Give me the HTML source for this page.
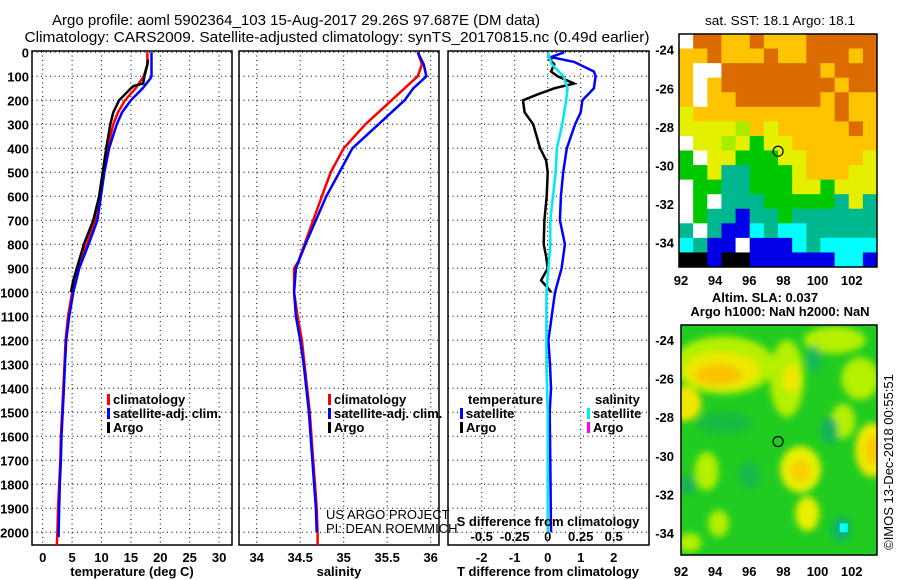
<!DOCTYPE html>
<html><head><meta charset="utf-8"><style>
html,body{margin:0;padding:0;background:#fff;}
svg{display:block;font-family:"Liberation Sans",sans-serif;}
.tk{font-size:13px;font-weight:bold;}
</style></head><body>
<svg id="fig" width="900" height="580" viewBox="0 0 900 580" xmlns="http://www.w3.org/2000/svg">
<defs>
<clipPath id="c1"><rect x="32" y="51" width="200" height="494"/></clipPath>
<clipPath id="c2"><rect x="239" y="51" width="200" height="494"/></clipPath>
<clipPath id="c3"><rect x="448" y="51" width="201" height="494"/></clipPath>
<clipPath id="cm2"><rect x="681" y="325" width="196" height="230"/></clipPath>
<filter id="blur" x="-20%" y="-20%" width="140%" height="140%"><feGaussianBlur stdDeviation="3.5"/></filter>
</defs>
<text x="296" y="25" font-size="15" text-anchor="middle" textLength="488" lengthAdjust="spacingAndGlyphs">Argo profile: aoml 5902364_103 15-Aug-2017 29.26S 97.687E (DM data)</text>
<text x="337" y="42" font-size="15" text-anchor="middle" textLength="625" lengthAdjust="spacingAndGlyphs">Climatology: CARS2009. Satellite-adjusted climatology: synTS_20170815.nc (0.49d earlier)</text>
<text x="780" y="25" font-size="13" text-anchor="middle" textLength="150" lengthAdjust="spacingAndGlyphs">sat. SST: 18.1 Argo: 18.1</text>
<text x="765" y="302" class="tk" text-anchor="middle">Altim. SLA: 0.037</text>
<text x="780" y="316" class="tk" text-anchor="middle">Argo h1000: NaN h2000: NaN</text>
<text transform="translate(893,462) rotate(-90)" font-size="13" text-anchor="middle">©IMOS 13-Dec-2018 00:55:51</text>
<g id="g"></g>
</svg>
<script>
// ---- data ----
const depthTicks=[0,100,200,300,400,500,600,700,800,900,1000,1100,1200,1300,1400,1500,1600,1700,1800,1900,2000];
const tempTicks=[0,5,10,15,20,25,30];
const salTicks=[34,34.5,35,35.5,36];
const dTTicks=[-2,-1,0,1,2];
const dSTicks=[-0.5,-0.25,0,0.25,0.5];
const dSTickLabels=["-0.5","-0.25","0","0.25","0.5"];
const climTD=[0,50,100,150,200,250,300,400,500,600,700,800,900,1000,1100,1200,1300,1400,1500,1600,1700,1800,1900,2000,2054];
const climT=[17.8,17.8,17.2,15.8,14,12.8,12,11,10.3,9.7,9,7.5,5.8,5,4.3,3.9,3.7,3.5,3.3,3.1,3,2.8,2.6,2.5,2.4];
const satTD=[0,100,110,150,200,250,300,400,500,600,700,800,900,1000,1100,1200,1300,1400,1500,1600,1700,1800,1900,2000,2020];
const satT=[18.5,18.5,18.3,17,15,13.5,12.6,11.3,10.5,9.9,9.3,7.8,6.2,5.2,4.5,4,3.8,3.6,3.4,3.2,3.1,2.9,2.8,2.7,2.7];
const argoTD=[30,50,100,130,140,150,200,250,300,400,500,600,700,800,900,950,1000];
const argoT=[17.9,17.8,17.3,17.1,15.5,15,13,12,11.5,10.8,10.2,9.6,8.6,7,5.8,5.2,4.8];
const climSD=[0,50,100,150,200,250,300,400,500,600,700,800,870,900,1000,1100,1200,1300,1400,1500,1600,1700,1800,1900,2000,2054];
const climS=[35.85,35.9,35.85,35.7,35.55,35.4,35.25,35.0,34.85,34.75,34.65,34.55,34.48,34.43,34.43,34.47,34.52,34.55,34.58,34.61,34.63,34.65,34.67,34.69,34.7,34.7];
const satSD=[0,50,100,150,200,250,300,400,500,600,700,800,900,1000,1100,1200,1300,1400,1500,1600,1700,1800,1900,2000];
const satS=[35.85,35.92,35.95,35.8,35.7,35.55,35.4,35.1,34.95,34.8,34.68,34.56,34.45,34.43,34.45,34.5,34.54,34.57,34.6,34.62,34.64,34.66,34.68,34.69];
const satdTD=[0,20,40,80,100,150,200,250,300,400,500,600,700,800,900,1000,1100,1200,1300,1400,1500,1700,2000];
const satdT=[0.5,0.1,0.8,1.4,1.45,1.4,1.05,1.0,0.83,0.58,0.47,0.4,0.37,0.52,0.42,0.22,0.12,0.02,0.07,0.1,0.06,0.08,0.1];
const argodTD=[20,30,50,80,100,130,150,175,200,250,300,400,450,500,600,700,800,850,900,950,990,1000];
const argodT=[0.2,0.05,0.2,0.1,0.3,0.8,0.2,-0.3,-0.75,-0.7,-0.44,-0.23,-0.05,0,-0.03,-0.1,-0.12,-0.05,0,-0.2,0.05,0.1];
const satdSD=[0,50,100,150,200,300,400,500,600,700,800,1000,1100,1300,1500,2000];
const satdS=[0,0.03,0.12,0.15,0.14,0.11,0.07,0.06,0.04,0.02,0.02,-0.01,-0.01,-0.01,0,0];
const sstRows=["WOOYYOYYYOOOOO","YYOYYYOYYOOOYO","YWWOOOOOOOYOOO","YWYOOOOOOOOYOO","YWYYOOOOOOYOYY","LYYYYYYYYYYOYY","LLLLGYLYYYYYOY","WLLGLDLLYYYYYY","DWLLDDDLLYYYYL","DDLTTDDDLYYYLL","WDDTTDDDLLDLLL","WDWTTTDDDDDTLT","WDTTBTTDTTTTTT","TWTBBCTCCTTTTT","CTBBWBBBCTCCCC","KKBKKBBBBBBCCB"];
const lonTicks=[92,94,96,98,100,102];
const latTicks=[-24,-26,-28,-30,-32,-34];
const slaBlobs=[[94.5,-25.3,3.0,1.5,"#b4f000"],[94.4,-25.6,2.2,0.95,"#f0e800"],[94.2,-25.8,1.4,0.55,"#f8c400"],[92.2,-27.3,1.0,0.9,"#f0e800"],[98.2,-26,1.0,2.0,"#b4f000"],[98.5,-26,0.55,0.7,"#f0e800"],[101,-24,1.8,0.7,"#b4f000"],[99,-30.7,1.2,1.2,"#e8f000"],[99,-30.8,0.6,0.6,"#f8d000"],[103.2,-29.7,1.0,1.4,"#f0e800"],[103.3,-29.7,0.5,0.7,"#f8c800"],[93.5,-30.8,0.7,1.0,"#b4f000"],[94.2,-33.5,0.6,0.7,"#b4f000"],[99.4,-33,0.7,0.9,"#e8f000"],[101.5,-28.2,0.7,0.9,"#b4f000"],[102.5,-26,1.1,1.1,"#b4f000"],[92.5,-34.5,0.7,0.5,"#b4f000"],[100.7,-28.7,0.5,0.7,"#14b060"],[101.4,-33.8,0.55,0.65,"#10b070"],[94.5,-28.3,1.6,0.6,"#18bc40"],[96,-31,0.6,0.7,"#14b850"],[99.8,-25,0.4,0.7,"#14b860"],[92.4,-31.5,0.4,0.5,"#14b060"]];
// ---- scales ----
const yD=d=>52.3+d*0.24;
const xT=t=>42.7+t*5.88;
const xS=s=>256.7+(s-34)*87;
const xdT=v=>547.7+v*33;
const xdS=v=>547.7+v*132;
const m1x=l=>681+(l-92)*17.07, m1y=l=>49.7+(-24-l)*19.3;
const m2x=l=>681+(l-92)*17.07, m2y=l=>340+(-24-l)*19.3;
const NS="http://www.w3.org/2000/svg";
const G=document.getElementById('g');
function mk(tag,attrs,parent){const e=document.createElementNS(NS,tag);for(const k in attrs)e.setAttribute(k,attrs[k]);(parent||G).appendChild(e);return e;}
function txt(x,y,s,anchor,cls,parent){const e=mk('text',{x:x,y:y,'text-anchor':anchor,'class':cls||'tk'},parent);e.textContent=s;return e;}
function line(xs,ds,fx,color,w,clip,name){
  const pts=xs.map((v,i)=>fx(v).toFixed(1)+","+yD(ds[i]).toFixed(1)).join(" ");
  const e=mk('polyline',{points:pts,fill:'none',stroke:color,'stroke-width':w,'clip-path':'url(#'+clip+')'});
  
  
}
function panel(x0,x1,xticks,fx,labels,clipName,pname){
  const fr=mk('rect',{x:x0,y:51,width:x1-x0,height:494,fill:'#fff',stroke:'#000','stroke-width':1.5});
  
  
  depthTicks.forEach(d=>{const l=mk('line',{x1:x0,x2:x1,y1:yD(d),y2:yD(d),stroke:'#000','stroke-dasharray':'1,3.5'});
    
    });
  xticks.forEach((t,i)=>{const X=fx(t);const l=mk('line',{x1:X,x2:X,y1:51,y2:545,stroke:'#000','stroke-dasharray':'1,3.5'});
    
    
    if(labels){const e=txt(X,562,labels[i],'middle');
    
    }});
}
depthTicks.forEach(d=>{const e=txt(29,yD(d)+5,String(d),'end');
  
  });
panel(32,232,tempTicks,xT,tempTicks.map(String),'c1','temperature-panel');
panel(239,439,salTicks,xS,salTicks.map(String),'c2','salinity-panel');
panel(448,649,dTTicks,xdT,dTTicks.map(String),'c3','difference-panel');
dSTicks.forEach((t,i)=>{const e=txt(xdS(t),541,dSTickLabels[i],'middle');
  
  });
line(climT,climTD,xT,'#ff0000',2.5,'c1','climatology-temperature-line');
line(satT,satTD,xT,'#0000ff',2.5,'c1','satellite-temperature-line');
line(argoT,argoTD,xT,'#000000',2.5,'c1','argo-temperature-line');
line(climS,climSD,xS,'#ff0000',2.5,'c2','climatology-salinity-line');
line(satS,satSD,xS,'#0000ff',2.5,'c2','satellite-salinity-line');
line(argodT,argodTD,xdT,'#000000',2.5,'c3','argo-temperature-difference-line');
line(satdT,satdTD,xdT,'#0000ff',2.5,'c3','satellite-temperature-difference-line');
line(satdS,satdSD,xdS,'#00e8f0',2.5,'c3','satellite-salinity-difference-line');
[[132,576,'temperature (deg C)','temperature-axis-title'],[339,576,'salinity','salinity-axis-title'],[548,576,'T difference from climatology','t-difference-axis-title'],[548,526,'S difference from climatology','s-difference-axis-title']].forEach(a=>{
  const e=txt(a[0],a[1],a[2],'middle');
  
  });
function leg(x,y,color,label,name){
  const r=mk('rect',{x:x,y:y-10,width:3,height:11,fill:color});
  
  
  const t=txt(x+6,y,label,'start');
  
  
}
leg(107,404,'#ff0000','climatology','legend-climatology');
leg(107,418,'#0000ff','satellite-adj. clim.','legend-satellite');
leg(107,432,'#000000','Argo','legend-argo');
leg(328,404,'#ff0000','climatology','legend2-climatology');
leg(328,418,'#0000ff','satellite-adj. clim.','legend2-satellite');
leg(328,432,'#000000','Argo','legend2-argo');
[[468,404,'temperature','legend-temperature-heading'],[595,404,'salinity','legend-salinity-heading']].forEach(a=>{const e=txt(a[0],a[1],a[2],'start');
  
  });
leg(460,418,'#0000ff','satellite','legend-t-satellite');
leg(460,432,'#000000','Argo','legend-t-argo');
leg(587,418,'#00f0f0','satellite','legend-s-satellite');
leg(587,432,'#ff00ff','Argo','legend-s-argo');
[[326,519,'US ARGO PROJECT','credit-project'],[326,533,'PI: DEAN ROEMMICH','credit-pi']].forEach(a=>{const e=mk('text',{x:a[0],y:a[1],'font-size':13,fill:'#000'});e.textContent=a[2];
  
  });
// SST map
const cols={O:'#dc6c00',Y:'#ffc400',L:'#e4f000',G:'#a8ec00',D:'#00c800',T:'#00b890',C:'#00ffff',B:'#0000e8',K:'#000000',W:'#ffffff'};
const cw=198/14, ch=233/16;
sstRows.forEach((row,r)=>{for(let c=0;c<row.length;c++){const e=mk('rect',{x:(679+c*cw).toFixed(2),y:(34+r*ch).toFixed(2),width:(cw+0.5).toFixed(2),height:(ch+0.5).toFixed(2),fill:cols[row[c]]});
  
  }});
const f1=mk('rect',{x:679,y:34,width:198,height:233,fill:'none',stroke:'#000','stroke-width':1.5});


const c1=mk('circle',{cx:m1x(97.687),cy:m1y(-29.26),r:5,fill:'none',stroke:'#000','stroke-width':1.2});


// SLA map
const base=mk('rect',{x:681,y:325,width:196,height:230,fill:'#20cc20'});


const bg=mk('g',{'clip-path':'url(#cm2)'});
const bg2=mk('g',{filter:'url(#blur)'},bg);
slaBlobs.forEach(b=>{const e=mk('ellipse',{cx:m2x(b[0]),cy:m2y(b[1]),rx:b[2]*17.07,ry:b[3]*19.3,fill:b[4]},bg2);
  
  });
const cy=mk('rect',{x:m2x(101.3),y:m2y(-33.5),width:8,height:9,fill:'#00ffff'},bg);


const f2=mk('rect',{x:681,y:325,width:196,height:230,fill:'none',stroke:'#000','stroke-width':1.5});


const c2=mk('circle',{cx:m2x(97.687),cy:m2y(-29.26),r:5,fill:'none',stroke:'#000','stroke-width':1.2});


lonTicks.forEach(l=>{const a=txt(m1x(l),285,String(l),'middle');
  
  
  const b=txt(m2x(l),576,String(l),'middle');
  
  });
latTicks.forEach(l=>{const a=txt(674,m1y(l)+5,String(l),'end');
  
  
  const b=txt(674,m2y(l)+5,String(l),'end');
  
  });
</script>
</body></html>
